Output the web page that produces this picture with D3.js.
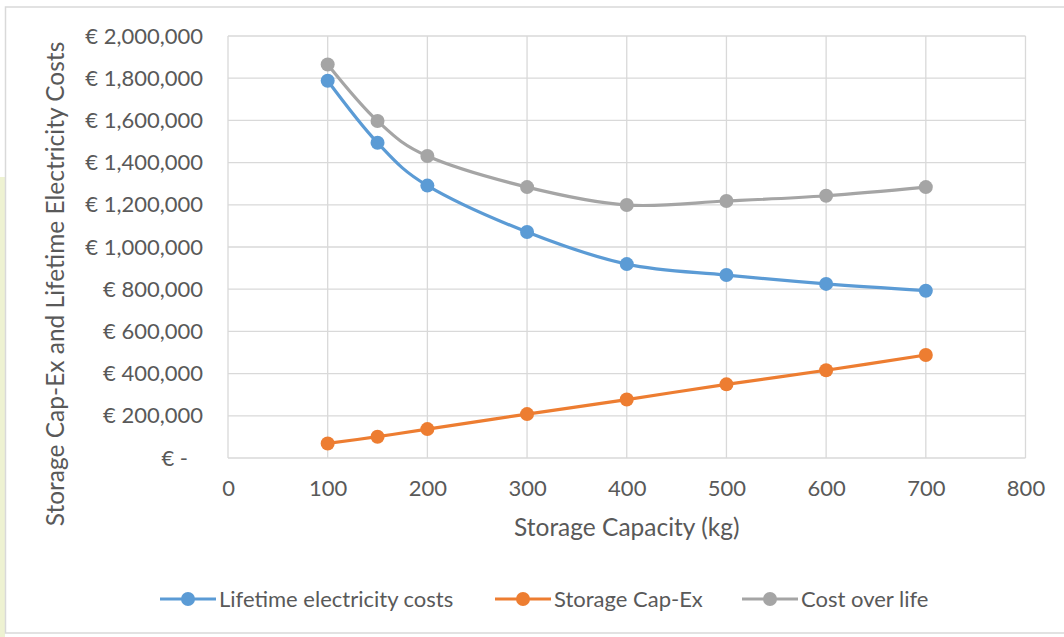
<!DOCTYPE html>
<html><head><meta charset="utf-8">
<script src="https://cdn.jsdelivr.net/npm/d3@7"></script>
<style>
html,body{margin:0;padding:0;background:#fff;}
svg{display:block;font-family:Lato,"Open Sans",sans-serif;}
</style></head>
<body>
<svg id="chart" width="1064" height="637"></svg>
<script>
const capacities = [100, 150, 200, 300, 400, 500, 600, 700];
const lifetimeElectricity = [1788000, 1494000, 1291000, 1071000, 919000, 867000, 825000, 793000];
const storageCapEx = [69000, 101000, 137000, 208000, 277000, 349000, 416000, 488000];
const costOverLife = [1865000, 1597000, 1431000, 1284000, 1199000, 1218000, 1243000, 1284000];
const seriesNames = ["Lifetime electricity costs", "Storage Cap-Ex", "Cost over life"];
const xTicks = [0, 100, 200, 300, 400, 500, 600, 700, 800];
const yTicks = [0, 200000, 400000, 600000, 800000, 1000000, 1200000, 1400000, 1600000, 1800000, 2000000];
const colors = ["#5b9bd5", "#ed7d31", "#a5a5a5"];

const svg = d3.select("#chart");
const textColor = "#595959";
const grid = "#d9d9d9";
const tickFont = "22px";
const titleFont = "24.5px";

// background decorations (frame + left strip)
svg.append("rect").attr("x", 0).attr("y", 177).attr("width", 5).attr("height", 460).attr("fill", "#eef2d2");
svg.append("rect").attr("x", 5.5).attr("y", 7).attr("width", 1070).attr("height", 626)
  .attr("fill", "#fff").attr("stroke", "#d9d9d9").attr("stroke-width", 1.5);

const L = 228, R = 1025.5, T = 36, B = 458;
const x = d3.scaleLinear().domain([0, 800]).range([L, R]);
const y = d3.scaleLinear().domain([0, 2000000]).range([B, T]);

// gridlines
svg.append("g").selectAll("line").data(yTicks).join("line")
  .attr("x1", L).attr("x2", R).attr("y1", d => y(d)).attr("y2", d => y(d))
  .attr("stroke", grid).attr("stroke-width", 1.3);
svg.append("g").selectAll("line").data(xTicks).join("line")
  .attr("x1", d => x(d)).attr("x2", d => x(d)).attr("y1", T).attr("y2", B)
  .attr("stroke", grid).attr("stroke-width", 1.3);

// y axis labels
const yFmt = d => d === 0 ? "€ -" : "€ " + d3.format(",")(d);
const yAxis = d3.axisLeft(y).tickValues(yTicks).tickFormat(yFmt).tickSize(0).tickPadding(0);
const yg = svg.append("g").attr("transform", `translate(${L - 25},0)`).call(yAxis);
yg.select(".domain").remove();
yg.selectAll("text").attr("fill", textColor).style("font-size", tickFont).style("font-family", "Lato, sans-serif");
yg.selectAll(".tick").filter(d => d === 0).select("text").attr("dx", -15);

// x axis labels
const xAxis = d3.axisBottom(x).tickValues(xTicks).tickFormat(d3.format("d")).tickSize(0).tickPadding(0);
const xg = svg.append("g").attr("transform", `translate(0,${B + 22})`).call(xAxis);
xg.select(".domain").remove();
xg.selectAll("text").attr("fill", textColor).style("font-size", tickFont).style("font-family", "Lato, sans-serif");

// titles
svg.append("text").attr("x", (L + R) / 2).attr("y", 536).attr("text-anchor", "middle")
  .attr("fill", textColor).style("font-size", titleFont).text("Storage Capacity (kg)");
svg.append("text").attr("transform", "translate(64,284) rotate(-90)").attr("text-anchor", "middle")
  .attr("fill", textColor).style("font-size", titleFont).text("Storage Cap-Ex and Lifetime Electricity Costs");

// series
const allSeries = [lifetimeElectricity, storageCapEx, costOverLife];
const line = d3.line().x(d => x(d[0])).y(d => y(d[1])).curve(d3.curveCardinal.tension(0));
allSeries.forEach((vals, i) => {
  const pts = capacities.map((c, j) => [c, vals[j]]);
  svg.append("path").datum(pts).attr("d", line).attr("fill", "none")
    .attr("stroke", colors[i]).attr("stroke-width", 3.2).attr("stroke-linejoin", "round");
  svg.append("g").selectAll("circle").data(pts).join("circle")
    .attr("cx", d => x(d[0])).attr("cy", d => y(d[1])).attr("r", 7).attr("fill", colors[i]);
});

// legend
const legendX = [160, 495, 742];
const ly = 599;
seriesNames.forEach((name, i) => {
  const g = svg.append("g").attr("transform", `translate(${legendX[i]},${ly})`);
  g.append("line").attr("x1", 0).attr("x2", 56).attr("y1", 0).attr("y2", 0)
    .attr("stroke", colors[i]).attr("stroke-width", 3.2);
  g.append("circle").attr("cx", 28).attr("cy", 0).attr("r", 7).attr("fill", colors[i]);
  g.append("text").attr("x", 59).attr("y", 0).attr("dy", "0.35em").attr("fill", textColor)
    .style("font-size", tickFont).text(name);
});
</script>
</body></html>
